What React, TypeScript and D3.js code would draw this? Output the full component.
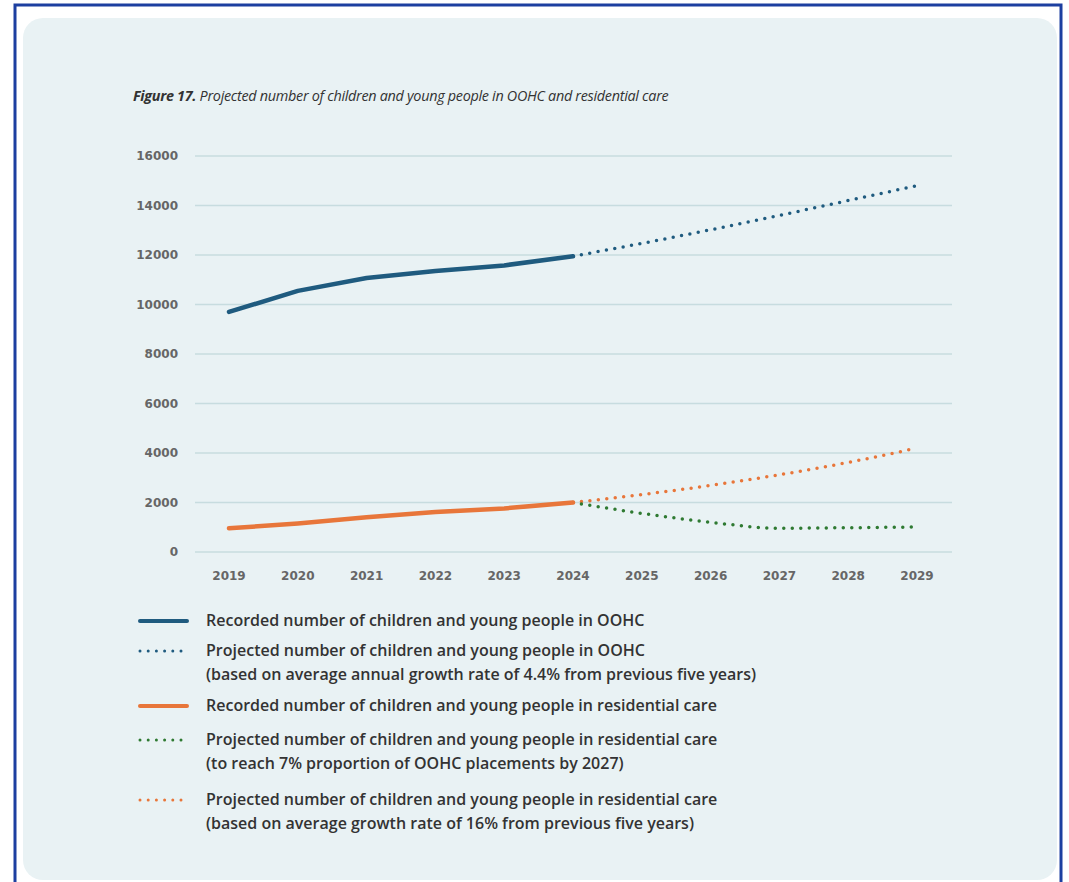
import React from "react";
import * as d3 from "d3";

const years = [2019, 2020, 2021, 2022, 2023, 2024, 2025, 2026, 2027, 2028, 2029];
const yTicks = [0, 2000, 4000, 6000, 8000, 10000, 12000, 14000, 16000];

const oohcRecordedYears = [2019, 2020, 2021, 2022, 2023, 2024];
const oohcRecorded = [9700, 10550, 11070, 11350, 11580, 11950];

const projYears = [2024, 2025, 2026, 2027, 2028, 2029];
const oohcProjected = [11950, 12470, 13020, 13600, 14200, 14800];

const resRecorded = [960, 1150, 1400, 1620, 1760, 2000];
const resProjected7 = [2000, 1560, 1200, 960, 980, 1010];
const resProjected16 = [2000, 2320, 2690, 3120, 3620, 4200];

const BLUE = "#1f5b7f";
const ORANGE = "#e8763a";
const GREEN = "#2f7a32";

const legendItems = [
  { color: BLUE, dotted: false, lines: ["Recorded number of children and young people in OOHC"] },
  { color: BLUE, dotted: true, lines: ["Projected number of children and young people in OOHC", "(based on average annual growth rate of 4.4% from previous five years)"] },
  { color: ORANGE, dotted: false, lines: ["Recorded number of children and young people in residential care"] },
  { color: GREEN, dotted: true, lines: ["Projected number of children and young people in residential care", "(to reach 7% proportion of OOHC placements by 2027)"] },
  { color: ORANGE, dotted: true, lines: ["Projected number of children and young people in residential care", "(based on average growth rate of 16% from previous five years)"] },
];
const legendY = [621, 651, 706, 740, 800];

export default function App() {
  const x = d3.scaleLinear().domain([2019, 2029]).range([229, 917]);
  const y = d3.scaleLinear().domain([0, 16000]).range([552, 156]);
  const smooth = d3
    .line<[number, number]>()
    .x((d) => x(d[0]))
    .y((d) => y(d[1]))
    .curve(d3.curveMonotoneX);
  const straight = d3
    .line<[number, number]>()
    .x((d) => x(d[0]))
    .y((d) => y(d[1]))
    .curve(d3.curveLinear);
  const zip = (xs: number[], vs: number[]) => xs.map((v, i) => [v, vs[i]] as [number, number]);

  const tickFont = "'DejaVu Sans', Verdana, sans-serif";
  const textFont = "'Open Sans', Lato, sans-serif";

  return (
    <div style={{ position: "absolute", left: 0, top: 0 }}>
      <svg width={1069} height={882} style={{ display: "block" }}>
        <rect x={0} y={0} width={1069} height={882} fill="#ffffff" />
        <rect x={15} y={5} width={1046} height={900} fill="none" stroke="#1c3fa0" strokeWidth={3} />
        <rect x={23} y={18} width={1034} height={862} rx={20} ry={20} fill="#e9f2f4" />

        <text x={133} y={101} fontFamily="'Open Sans', sans-serif" fontSize={14.4} fontStyle="italic" fill="#333" letterSpacing={-0.3}>
          <tspan fontWeight="bold">Figure 17.</tspan>
          <tspan> Projected number of children and young people in OOHC and residential care</tspan>
        </text>

        {yTicks.map((t) => (
          <g key={t}>
            <line x1={195} x2={952} y1={y(t)} y2={y(t)} stroke="#c7dcdf" strokeWidth={1.5} />
            <text x={178} y={y(t) + 4} textAnchor="end" fontFamily={tickFont} fontSize={12} fontWeight="bold" fill="#666">
              {t}
            </text>
          </g>
        ))}
        {years.map((yr) => (
          <text key={yr} x={x(yr)} y={580} textAnchor="middle" fontFamily={tickFont} fontSize={12} fontWeight="bold" fill="#666">
            {yr}
          </text>
        ))}

        <path d={smooth(zip(projYears, oohcProjected)) || ""} fill="none" stroke={BLUE} strokeWidth={3.5} strokeLinecap="round" strokeDasharray="0 8.5" />
        <path d={smooth(zip(projYears, resProjected16)) || ""} fill="none" stroke={ORANGE} strokeWidth={3.5} strokeLinecap="round" strokeDasharray="0 8.5" />
        <path d={smooth(zip(projYears, resProjected7)) || ""} fill="none" stroke={GREEN} strokeWidth={3.5} strokeLinecap="round" strokeDasharray="0 8.5" />
        <path d={straight(zip(oohcRecordedYears, oohcRecorded)) || ""} fill="none" stroke={BLUE} strokeWidth={4.5} strokeLinecap="round" strokeLinejoin="round" />
        <path d={straight(zip(oohcRecordedYears, resRecorded)) || ""} fill="none" stroke={ORANGE} strokeWidth={4.5} strokeLinecap="round" strokeLinejoin="round" />

        {legendItems.map((item, i) => (
          <g key={i}>
            {item.dotted ? (
              <line x1={140} x2={182} y1={legendY[i]} y2={legendY[i]} stroke={item.color} strokeWidth={3} strokeLinecap="round" strokeDasharray="0 8.2" />
            ) : (
              <line x1={140} x2={187} y1={legendY[i]} y2={legendY[i]} stroke={item.color} strokeWidth={4} strokeLinecap="round" />
            )}
            {item.lines.map((l, j) => (
              <text key={j} x={206} y={legendY[i] + 5 + j * 24} fontFamily={textFont} fontSize={16} fontWeight={600} fill="#333">
                {l}
              </text>
            ))}
          </g>
        ))}
      </svg>
    </div>
  );
}
